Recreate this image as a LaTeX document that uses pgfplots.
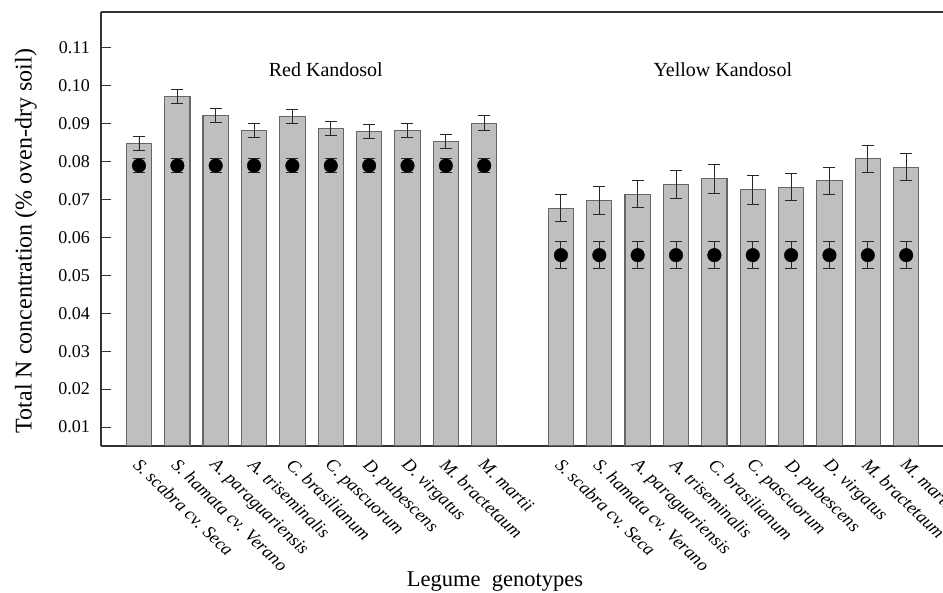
\documentclass[border=0pt]{standalone}
\usepackage{fontspec}
\setmainfont{Liberation Serif}
\usepackage{pgfplots}
\pgfplotsset{compat=1.18}
\usepackage{pgfplotstable}

\pgfplotstableread{
x y e
0 0.0848 0.0019
1 0.0972 0.0019
2 0.0921 0.0018
3 0.0881 0.0019
4 0.0918 0.0019
5 0.0887 0.0019
6 0.0879 0.0019
7 0.0882 0.0019
8 0.0852 0.0019
9 0.0901 0.0019
11 0.0677 0.0036
12 0.0697 0.0037
13 0.0714 0.0035
14 0.0739 0.0037
15 0.0754 0.0037
16 0.0725 0.0037
17 0.0732 0.0036
18 0.0749 0.0036
19 0.0807 0.0036
20 0.0785 0.0036
}\bardata

\pgfplotstableread{
x y e
0 0.0789 0.0019
1 0.0789 0.0019
2 0.0789 0.0019
3 0.0789 0.0019
4 0.0789 0.0019
5 0.0789 0.0019
6 0.0789 0.0019
7 0.0789 0.0019
8 0.0789 0.0019
9 0.0789 0.0019
11 0.0553 0.0036
12 0.0553 0.0036
13 0.0553 0.0036
14 0.0553 0.0036
15 0.0553 0.0036
16 0.0553 0.0036
17 0.0553 0.0036
18 0.0553 0.0036
19 0.0553 0.0036
20 0.0553 0.0036
}\soildata

\begin{document}
\begin{tikzpicture}
\begin{axis}[
  at={(0,0)}, anchor=south west,
  scale only axis, width=842pt, height=434pt,
  xmin=-0.99, xmax=20.96, ymin=0.005, ymax=0.1194,
  axis x line=box, axis y line=left,
  axis line style={-, draw=black!80, line width=1.2pt},
  tick align=inside, major tick length=10pt,
  y tick style={draw=black!80, line width=1pt},
  x tick style={draw=none},
  ytick={0.01,0.02,0.03,0.04,0.05,0.06,0.07,0.08,0.09,0.10,0.11},
  yticklabels={0.01,0.02,0.03,0.04,0.05,0.06,0.07,0.08,0.09,0.10,0.11},
  yticklabel style={font=\fontsize{18}{20}\selectfont, inner sep=0pt, xshift=-11pt},
  xtick={0,1,2,3,4,5,6,7,8,9,11,12,13,14,15,16,17,18,19,20},
  xticklabels={S. scabra cv. Seca, S. hamata cv. Verano, A. paraguariensis, A. triseminalis, C. brasilianum, C. pascuorum, D. pubescens, D. virgatus, M. bractetaum, M. martii,
               S. scabra cv. Seca, S. hamata cv. Verano, A. paraguariensis, A. triseminalis, C. brasilianum, C. pascuorum, D. pubescens, D. virgatus, M. bractetaum, M. martii},
  xticklabel style={xshift=2pt, yshift=-11pt, rotate=-44, anchor=north west, inner sep=0pt, font=\fontsize{18}{20}\selectfont\itshape},
  xlabel={Legume~ genotypes},
  xlabel style={at={(axis description cs:0.468,0)}, anchor=center, yshift=-136pt, font=\fontsize{22.5}{25}\selectfont},
  ylabel={Total N concentration (\% oven-dry soil)},
  ylabel style={at={(axis description cs:0,0.472)}, anchor=center, yshift=75pt, font=\fontsize{24}{26}\selectfont},
]
\addplot[ybar, bar width=25.3pt, fill=black!25, draw=black!60, line width=1.1pt,
  error bars/.cd, y dir=both, y explicit,
  error bar style={line width=0.9pt, black!85},
  error mark options={rotate=90, line width=0.9pt, mark size=6pt, black!85}]
  table[x=x, y=y, y error=e]{\bardata};
\addplot[only marks, mark=*, mark size=6.8pt, black,
  error bars/.cd, y dir=both, y explicit,
  error bar style={line width=0.9pt, black!85},
  error mark options={rotate=90, line width=0.9pt, mark size=6pt, black!85}]
  table[x=x, y=y, y error=e]{\soildata};
\node[anchor=base, font=\fontsize{20}{22}\selectfont] at (axis cs:4.87,0.1024) {Red Kandosol};
\node[anchor=base, font=\fontsize{20}{22}\selectfont] at (axis cs:15.22,0.1024) {Yellow Kandosol};
\end{axis}
\pgfresetboundingbox
\path[use as bounding box] (-101pt,-147pt) rectangle (842pt,446pt);
\end{tikzpicture}
\end{document}
